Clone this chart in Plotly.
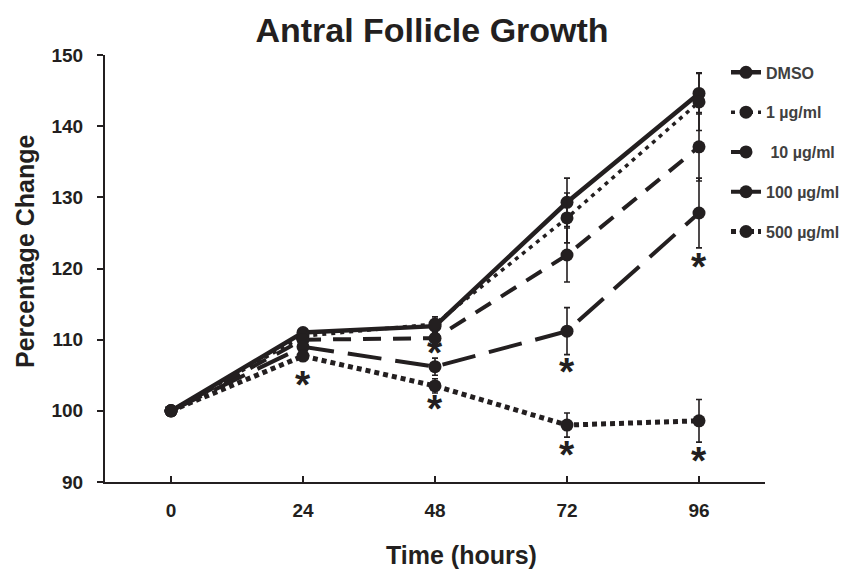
import plotly.graph_objects as go

times = ["0", "24", "48", "72", "96"]
series_names = ["DMSO", "1 µg/ml", " 10 µg/ml", "100 µg/ml", "500 µg/ml"]
dmso = [100, 111.0, 111.9, 129.3, 144.6]
dmso_err = [0, 0.5, 0.8, 3.4, 2.9]
c1 = [100, 110.5, 112.2, 127.1, 143.4]
c1_err = [0, 0.5, 1.0, 3.5, 4.0]
c10 = [100, 110.0, 110.2, 121.9, 137.1]
c10_err = [0, 0.6, 0.8, 3.8, 4.8]
c100 = [100, 109.0, 106.2, 111.2, 127.8]
c100_err = [0, 0.6, 1.2, 3.3, 4.9]
c500 = [100, 107.7, 103.5, 98.0, 98.6]
c500_err = [0, 0.5, 1.0, 1.7, 3.0]

# significance asterisks: (time index, y position)
star_x = [1, 2, 3, 4, 2, 3, 4]
star_y = [104.4, 101.1, 94.5, 93.7, 108.9, 106.3, 121.0]

values = [dmso, c1, c10, c100, c500]
errors = [dmso_err, c1_err, c10_err, c100_err, c500_err]
dashes = ["solid", "4px,5px", "18px,12px", "34px,14px", "5px,4px"]
widths = [4.5, 3.5, 4, 4, 5]

INK = "#231f20"
FONT = "Arial, Liberation Sans, sans-serif"

fig = go.Figure()
xs = list(range(len(times)))
for i, name in enumerate(series_names):
    fig.add_trace(go.Scatter(
        x=xs, y=values[i], name=f"<b>{name}</b>", mode="lines+markers",
        legendgroup=f"g{i}",
        line=dict(color=INK, width=widths[i], dash=dashes[i]),
        marker=dict(color=INK, size=13, symbol="circle"),
        error_y=dict(type="data", array=errors[i], visible=True,
                     color=INK, thickness=1.6, width=3),
    ))

for sx, sy in zip(star_x, star_y):
    fig.add_annotation(x=sx, y=sy, text="<b>*</b>", showarrow=False,
                       font=dict(family=FONT, size=39, color=INK),
                       yanchor="middle", yshift=-5)

fig.update_layout(
    width=842, height=580,
    margin=dict(l=105, r=77, t=55, b=98, autoexpand=False),
    plot_bgcolor="white", paper_bgcolor="white",
    font=dict(family=FONT, color=INK),
    title=dict(text="<b>Antral Follicle Growth</b>", x=432 / 842, xref="container",
               y=1 - 30 / 580, yref="container", xanchor="center", yanchor="middle",
               font=dict(size=34, color=INK)),
    showlegend=True,
    legend=dict(x=(726 - 105) / 660, y=0.999, xanchor="left", yanchor="top",
                font=dict(size=16, color="#404040", family=FONT),
                tracegroupgap=16, bgcolor="rgba(0,0,0,0)",
                itemwidth=30),
)

fig.update_xaxes(
    range=[-0.5, 4.5], tickvals=[-0.5] + xs + [4.5],
    ticktext=[""] + [f"<b>{t}</b>" for t in times] + [""],
    showline=True, linecolor=INK, linewidth=2, mirror=False,
    ticks="inside", ticklen=6, tickwidth=2, tickcolor=INK,
    showgrid=False, zeroline=False,
    tickfont=dict(size=19, color=INK), ticklabelstandoff=10,
)
fig.update_yaxes(
    range=[90, 150], tickvals=[90, 100, 110, 120, 130, 140, 150],
    ticktext=["<b>90</b>", "<b>100</b>", "<b>110</b>", "<b>120</b>",
              "<b>130</b>", "<b>140</b>", "<b>150</b>"],
    showline=True, linecolor=INK, linewidth=2,
    ticks="outside", ticklen=6, tickwidth=2, tickcolor=INK,
    showgrid=False, zeroline=False,
    tickfont=dict(size=19, color=INK), ticklabelstandoff=10,
)

fig.add_annotation(text="<b>Time (hours)</b>", xref="paper", yref="paper",
                   x=(461 - 105) / 660, y=-(555 - 482) / 427, showarrow=False,
                   font=dict(size=25, color=INK, family=FONT),
                   xanchor="center", yanchor="middle")
fig.add_annotation(text="<b>Percentage Change</b>", xref="paper", yref="paper",
                   x=(25 - 105) / 660, y=(482 - 251) / 427, showarrow=False,
                   textangle=-90,
                   font=dict(size=25, color=INK, family=FONT),
                   xanchor="center", yanchor="middle")

fig.write_html("out.html")
